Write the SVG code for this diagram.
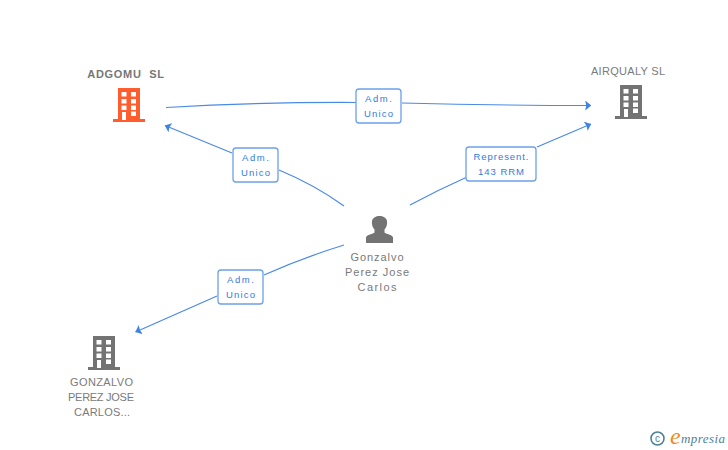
<svg xmlns="http://www.w3.org/2000/svg" width="728" height="450" viewBox="0 0 728 450">
<style>
text{font-family:"Liberation Sans",Arial,sans-serif}
.n{font-size:11px;fill:#7a7a7a;text-anchor:middle}
.b{font-size:11px;fill:#777;font-weight:bold;text-anchor:middle;letter-spacing:.7px;word-spacing:4px}
.l{font-size:9.500px;fill:#2f7be0;text-anchor:middle}
.c{fill:none;stroke:#4a8ae6;stroke-width:1.2}
.lb{fill:#fff;stroke:#6ca0ea;stroke-width:1.3}
.win{fill:#fff}
</style>
<defs>
<marker id="a" viewBox="0 0 6 10" refX="5.800" refY="5" markerWidth="6" markerHeight="10" markerUnits="userSpaceOnUse" orient="auto"><path d="M0 0L6 5L0 10L1 5Z" fill="#3f83e4"/></marker>
<g id="bld">
<path d="M5 0H27V31H32V34H0V31H5Z"/>
<g class="win">
<rect x="8.500" y="4" width="5" height="4.500"/><rect x="18" y="4" width="5" height="4.500"/>
<rect x="8.500" y="11" width="5" height="4.500"/><rect x="18" y="11" width="5" height="4.500"/>
<rect x="8.500" y="17.500" width="5" height="4.500"/><rect x="18" y="17.500" width="5" height="4.500"/>
<rect x="9" y="24" width="4" height="8"/><rect x="18" y="23.500" width="5" height="4.500"/>
</g>
</g>
</defs>
<g id="connectors">
<path class="c" d="M166 107.500Q262 102 356 102.500"/>
<path class="c" d="M402 103Q500 105.500 591 105.500" marker-end="url(#a)"/>
<path class="c" d="M232 153L165 125.500" marker-end="url(#a)"/>
<path class="c" d="M279 170Q315 185 344 206"/>
<path class="c" d="M410 205Q438 190 466 177.500"/>
<path class="c" d="M537 147L591 124" marker-end="url(#a)"/>
<path class="c" d="M344 245Q302 258 264 275"/>
<path class="c" d="M217 296L135.500 332" marker-end="url(#a)"/>
</g>
<g id="label-1"><rect class="lb" x="356" y="89" width="45" height="34" rx="3"/><text class="l" x="378.500" y="102" textLength="27">Adm.</text><text class="l" x="378.500" y="117" textLength="29">Unico</text></g>
<g id="label-2"><rect class="lb" x="233" y="148" width="45" height="34" rx="3"/><text class="l" x="255.500" y="161" textLength="27">Adm.</text><text class="l" x="255.500" y="176" textLength="29">Unico</text></g>
<g id="label-3"><rect class="lb" x="466" y="147" width="70" height="34" rx="3"/><text class="l" x="501" y="160" textLength="55">Represent.</text><text class="l" x="501" y="175" textLength="46">143 RRM</text></g>
<g id="label-4"><rect class="lb" x="218" y="270" width="45" height="34" rx="3"/><text class="l" x="240.500" y="283" textLength="27">Adm.</text><text class="l" x="240.500" y="298" textLength="29">Unico</text></g>
<g id="node-adgomu"><text class="b" x="126" y="78">ADGOMU SL</text><use href="#bld" x="113" y="88" fill="#ff5d2e"/></g>
<g id="node-airqualy"><text class="n" x="628" y="75" textLength="74">AIRQUALY SL</text><use href="#bld" x="615" y="85" fill="#737373"/></g>
<g id="node-person"><path d="M366 243V237.500C366 235 372 234.500 374.500 232.500V229.500C372.500 227.500 371.500 224 372 221C372.800 217.500 376 216 379.500 216C383 216 386.300 217.500 387 221C387.500 224 386.500 227.500 384.500 229.500V232.500C387 234.500 393 235 393 237.500V243Z" fill="#737373"/><text class="n" x="377" y="261" textLength="53">Gonzalvo</text><text class="n" x="377" y="276" textLength="64">Perez Jose</text><text class="n" x="377" y="291" textLength="39">Carlos</text></g>
<g id="node-gonzalvo"><use href="#bld" x="88" y="336" fill="#737373"/><text class="n" x="101.500" y="386" textLength="63">GONZALVO</text><text class="n" x="101" y="401" textLength="66">PEREZ JOSE</text><text class="n" x="102" y="416" textLength="56">CARLOS...</text></g>
<g id="logo"><circle cx="657.500" cy="438.500" r="6.500" fill="none" stroke="#4f8296" stroke-width="1.600"/><text x="657.500" y="442" font-size="10" fill="#4f8296" text-anchor="middle">c</text><text x="670" y="444" font-size="24" font-style="italic" fill="#f08a1d" style="font-family:'Liberation Serif',serif">e</text><text x="681" y="443" font-size="13" font-style="italic" fill="#4f8296" textLength="44" style="font-family:'Liberation Serif',serif">mpresia</text></g>
</svg>
